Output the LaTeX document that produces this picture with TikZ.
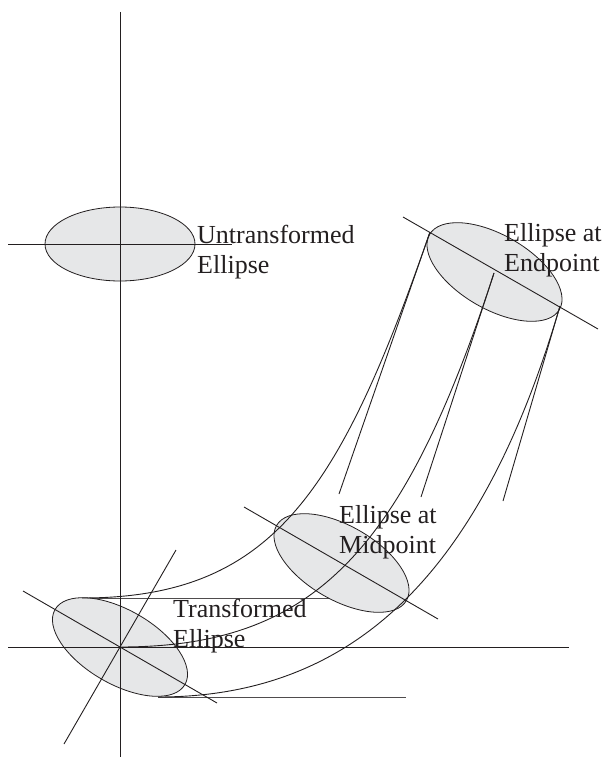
\documentclass[tikz,border=0pt]{standalone}
\usepackage{fontspec}
\setmainfont{Liberation Serif}
\definecolor{ink}{HTML}{231F20}
\definecolor{shade}{HTML}{E6E7E8}
\tikzset{
  px/.style={x=1pt,y=-1pt},
  line/.style={draw=ink,line width=0.9pt},
  guide/.style={draw=ink!80,line width=1pt},
  ell/.style={draw=ink,fill=shade,line width=0.8pt},
  lab/.style={anchor=base west,inner sep=0pt,text=ink,font=\fontsize{26}{30}\selectfont}
}
\begin{document}
\begin{tikzpicture}[px]
\useasboundingbox (0,0) rectangle (605,757);
% key points
\coordinate (o) at (120,647);
\coordinate (a0) at (82,598);
\coordinate (c0) at (158,697);
\coordinate (a3) at (430,232);
\coordinate (b3) at (494,273);
\coordinate (c3) at (560,306);
\coordinate (a2) at (339,494);
\coordinate (b2) at (421,497);
\coordinate (c2) at (503,501);
\coordinate (a1) at (330,598);
\coordinate (c1) at (406,697);
% horizontal tangents, under the ellipses
\draw[guide] (a0) -- (a1);
\draw[guide] (c0) -- (c1);
% ellipses
\draw[ell] (120,244) ellipse [x radius=75,y radius=37];
\draw[ell,rotate around={-30:(120,647)}] (120,647) ellipse [x radius=75,y radius=37];
\draw[ell,rotate around={-30:(341.5,563)}] (341.5,563) ellipse [x radius=75,y radius=37];
\draw[ell,rotate around={-30:(494.5,272)}] (494.5,272) ellipse [x radius=75,y radius=37];
% axes
\draw[line] (8,244) -- (232,244);
\draw[line] (120,12) -- (120,757);
\draw[line] (8,647) -- (569,647);
\draw[line] (23,591) -- (217,703);
\draw[line] (176,550) -- (64,744);
\draw[line] (244,507) -- (438,619);
\draw[line] (403,217) -- (598,329);
% end tangents
\draw[line] (a3) -- (a2);
\draw[line] (b3) -- (b2);
\draw[line] (c3) -- (c2);
% curves
\draw[line] (a0) .. controls (272,598) and (339,494) .. (a3);
\draw[line] (o) .. controls (313,647) and (403,553) .. (b3);
\draw[line] (c0) .. controls (350,697) and (480,579) .. (c3);
% labels
\node[lab] (l1) at (197,243) {Untransformed};
\node[lab] (l2) at (197,273) {Ellipse};
\node[lab] (l3) at (504,241) {Ellipse at};
\node[lab] (l4) at (504,271) {Endpoint};
\node[lab] (l5) at (339,523) {Ellipse at};
\node[lab] (l6) at (339,553) {Midpoint};
\node[lab] (l7) at (173,617) {Transformed};
\node[lab] (l8) at (173,647) {Ellipse};
\end{tikzpicture}
\end{document}
